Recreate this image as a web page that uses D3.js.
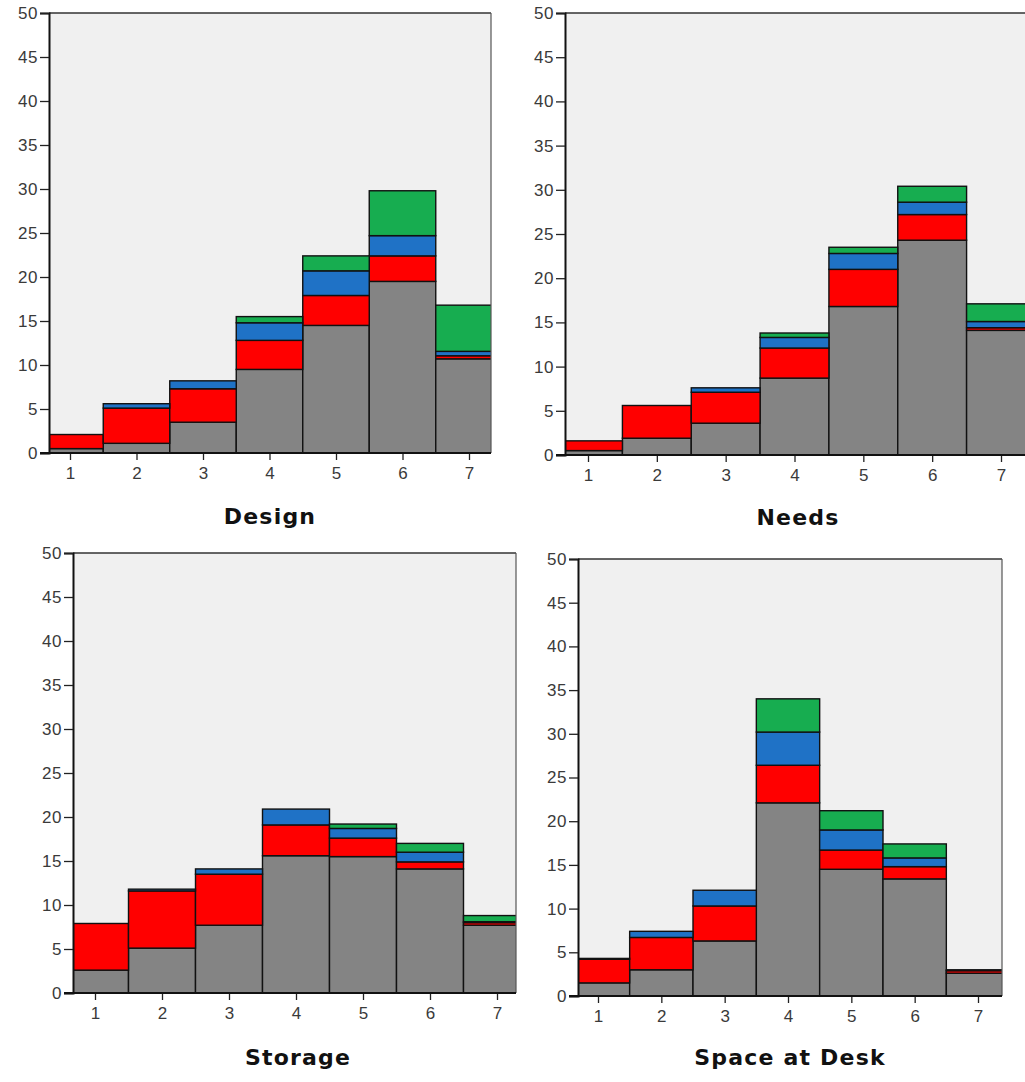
<!DOCTYPE html>
<html>
<head>
<meta charset="utf-8">
<script src="https://cdn.jsdelivr.net/npm/d3@7"></script>
<style>
  html, body { margin: 0; padding: 0; background: #ffffff; }
  svg { display: block; }
</style>
</head>
<body>
<svg id="chart" width="1025" height="1082"></svg>
<script>
// ---- Data (stacked segment heights, bottom to top: gray, red, blue, green) ----
const categories = [1, 2, 3, 4, 5, 6, 7];
const yTicks = [0, 5, 10, 15, 20, 25, 30, 35, 40, 45, 50];
const seriesNames = ["gray", "red", "blue", "green"];
const seriesColors = ["#848484", "#ff0000", "#1f72c6", "#17ad50"];

const designGray  = [0.5, 1.1, 3.5, 9.5, 14.5, 19.5, 10.7];
const designRed   = [1.6, 4.0, 3.8, 3.3, 3.4, 2.9, 0.35];
const designBlue  = [0.0, 0.5, 0.9, 2.0, 2.8, 2.3, 0.5];
const designGreen = [0.0, 0.0, 0.0, 0.7, 1.7, 5.1, 5.25];

const needsGray  = [0.5, 1.9, 3.6, 8.7, 16.8, 24.3, 14.1];
const needsRed   = [1.1, 3.7, 3.5, 3.4, 4.2, 2.9, 0.3];
const needsBlue  = [0.0, 0.0, 0.5, 1.2, 1.8, 1.4, 0.7];
const needsGreen = [0.0, 0.0, 0.0, 0.5, 0.7, 1.8, 2.0];

const storageGray  = [2.6, 5.1, 7.7, 15.6, 15.5, 14.1, 7.7];
const storageRed   = [5.3, 6.5, 5.8, 3.5, 2.1, 0.8, 0.3];
const storageBlue  = [0.0, 0.2, 0.6, 1.8, 1.1, 1.1, 0.1];
const storageGreen = [0.0, 0.0, 0.0, 0.0, 0.5, 1.0, 0.7];

const deskGray  = [1.5, 3.0, 6.3, 22.1, 14.5, 13.4, 2.6];
const deskRed   = [2.7, 3.7, 4.0, 4.3, 2.2, 1.4, 0.3];
const deskBlue  = [0.1, 0.7, 1.8, 3.8, 2.3, 1.0, 0.1];
const deskGreen = [0.0, 0.0, 0.0, 3.8, 2.2, 1.6, 0.0];

const panelTitles = ["Design", "Needs", "Storage", "Space at Desk"];
const panelSeries = [
  [designGray, designRed, designBlue, designGreen],
  [needsGray, needsRed, needsBlue, needsGreen],
  [storageGray, storageRed, storageBlue, storageGreen],
  [deskGray, deskRed, deskBlue, deskGreen]
];

// ---- Layout (pixel geometry of each panel) ----
const layouts = [
  { left: 49,  right: 491,  top: 13,  bottom: 453, t1: 70,  t7: 469,  titleX: 270, titleY: 524 },
  { left: 565, right: 1032, top: 13,  bottom: 455, t1: 588, t7: 1001, titleX: 798, titleY: 525 },
  { left: 73,  right: 516,  top: 553, bottom: 993, t1: 95,  t7: 497,  titleX: 298, titleY: 1065 },
  { left: 578, right: 1002, top: 559, bottom: 996, t1: 598, t7: 978,  titleX: 790, titleY: 1065 }
];

const svg = d3.select("#chart");

panelTitles.forEach((title, pi) => {
  const L = layouts[pi];
  const series = panelSeries[pi];
  const rows = categories.map((c, i) => {
    const r = { cat: c };
    seriesNames.forEach((s, si) => { r[s] = series[si][i]; });
    return r;
  });
  const stacked = d3.stack().keys(seriesNames)(rows);

  const x = d3.scaleLinear().domain([1, 7]).range([L.t1, L.t7]);
  const y = d3.scaleLinear().domain([0, 50]).range([L.bottom, L.top]);

  const g = svg.append("g");
  const clipId = "clip" + pi;
  g.append("clipPath").attr("id", clipId)
    .append("rect")
    .attr("x", L.left).attr("y", L.top)
    .attr("width", L.right - L.left).attr("height", L.bottom - L.top);

  // plot background
  g.append("rect")
    .attr("x", L.left).attr("y", L.top)
    .attr("width", L.right - L.left).attr("height", L.bottom - L.top)
    .attr("fill", "#f0f0f0");

  // bars
  const bars = g.append("g").attr("clip-path", `url(#${clipId})`);
  stacked.forEach((layer, li) => {
    bars.append("g").selectAll("rect")
      .data(layer.filter(d => d[1] - d[0] > 0))
      .join("rect")
      .attr("x", d => x(d.data.cat - 0.5))
      .attr("width", d => x(d.data.cat + 0.5) - x(d.data.cat - 0.5))
      .attr("y", d => y(d[1]))
      .attr("height", d => y(d[0]) - y(d[1]))
      .attr("fill", seriesColors[li])
      .attr("stroke", "#111")
      .attr("stroke-width", 1.4);
  });

  // frame (top and right)
  g.append("line").attr("x1", L.left).attr("x2", L.right)
    .attr("y1", L.top).attr("y2", L.top)
    .attr("stroke", "#333").attr("stroke-width", 1.5);
  g.append("line").attr("x1", L.right).attr("x2", L.right)
    .attr("y1", L.top).attr("y2", L.bottom)
    .attr("stroke", "#555").attr("stroke-width", 1.2);

  // y axis
  const yAxis = g.append("g")
    .attr("transform", `translate(${L.left},0)`)
    .call(d3.axisLeft(y).tickValues(yTicks).tickSize(9).tickPadding(2).tickFormat(d3.format("d")));
  yAxis.select(".domain").attr("stroke", "#111").attr("stroke-width", 2);
  yAxis.selectAll(".tick line").attr("stroke", "#222").attr("stroke-width", 1.3);
  yAxis.selectAll("text")
    .style("font-family", "'Liberation Sans', Arial, sans-serif")
    .style("font-size", "17px").attr("fill", "#3a3a3a")
    .attr("letter-spacing", 0.6);

  // x axis
  const xAxis = g.append("g")
    .attr("transform", `translate(0,${L.bottom})`)
    .call(d3.axisBottom(x).tickValues(categories).tickSize(7).tickPadding(7).tickFormat(d3.format("d")));
  xAxis.select(".domain").remove();
  g.append("line").attr("x1", L.left - 9).attr("x2", L.right)
    .attr("y1", L.bottom).attr("y2", L.bottom)
    .attr("stroke", "#111").attr("stroke-width", 2);
  xAxis.selectAll(".tick line").attr("stroke", "#222").attr("stroke-width", 1.3);
  xAxis.selectAll("text")
    .style("font-family", "'Liberation Sans', Arial, sans-serif")
    .style("font-size", "17px").attr("fill", "#3a3a3a");

  // axis title
  g.append("text")
    .attr("x", L.titleX).attr("y", L.titleY)
    .attr("text-anchor", "middle")
    .style("font-family", "'DejaVu Sans', Verdana, sans-serif")
    .style("font-weight", "bold")
    .style("font-size", "22px")
    .attr("letter-spacing", 1.2)
    .attr("fill", "#111")
    .text(title);
});
</script>
</body>
</html>
